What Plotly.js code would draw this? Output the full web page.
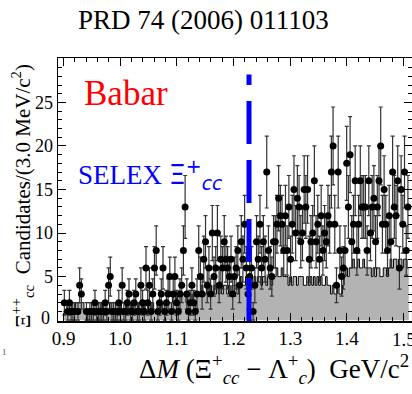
<!DOCTYPE html>
<html>
<head>
<meta charset="utf-8">
<script src="https://cdn.plot.ly/plotly-3.0.1.min.js"></script>
<style>html,body{margin:0;padding:0;background:#fff;}#chart{width:412px;height:394px;}</style>
</head>
<body>
<div id="chart"></div>
<script>
// Histogram binning (GeV/c^2)
const binStart = 0.9;
const binWidth = 0.003;

// Data: candidates per 3.0 MeV/c^2 bin (black points)
const dataCounts = [
  2,0,1,2,1,1,1,0,1,4,
  3,0,0,1,0,1,1,1,2,1,
  1,1,1,1,2,1,4,5,1,1,
  1,1,2,1,4,1,1,2,3,1,
  1,2,3,1,1,4,2,1,6,2,
  4,1,3,6,8,1,2,3,6,1,
  2,3,5,1,3,5,2,1,3,4,
  8,13,3,1,2,4,2,1,3,8,
  5,3,7,9,4,6,3,10,5,6,
  10,4,7,6,9,7,6,5,7,3,
  5,6,8,4,9,7,11,6,3,5,
  6,1,4,9,7,11,6,9,7,17,
  8,6,5,9,9,11,14,12,11,8,
  12,8,13,7,11,15,10,14,13,9,
  10,15,13,15,7,9,10,16,9,11,
  7,12,8,10,9,12,11,17,20,11,
  4,17,8,5,6,8,18,13,19,9,
  11,16,8,11,16,13,13,13,8,16,
  10,13,14,9,13,16,20,11,15,11,
  8,12,9,17,13,12,16,6,15,11,
  17,8,13
];

// Background histogram (grey, black outline)
const bkgCounts = [
  1,1,2,2,2,1,1,2,2,2,
  2,2,1,1,0,1,1,1,1,1,
  1,1,2,1,1,1,1,2,1,1,
  1,1,1,2,1,1,1,2,1,1,
  2,1,1,1,2,2,1,2,1,1,
  2,1,2,1,1,2,2,1,2,2,
  2,2,2,2,3,3,2,3,3,3,
  3,3,2,3,3,2,3,3,3,3,
  3,4,3,3,4,3,4,3,4,3,
  4,3,4,3,4,4,3,4,3,4,
  4,4,3,4,5,4,4,5,4,4,
  5,4,5,4,5,5,4,5,5,4,
  5,5,4,5,5,6,5,5,6,5,
  5,5,4,5,4,5,5,4,5,5,
  5,4,4,5,4,5,4,5,4,5,
  4,5,4,4,5,4,4,3,4,3,
  3,4,3,3,4,5,6,5,6,6,
  7,6,6,7,6,6,7,6,6,6,
  6,5,6,5,6,6,5,5,6,6,
  5,6,7,6,7,7,6,7,7,6,
  7,7,6
];

const selexMass = 1.2272;
const xTickVals = [0.9, 1.0, 1.1, 1.2, 1.3, 1.4, 1.5];
const xTickText = ['0.9', '1.0', '1.1', '1.2', '1.3', '1.4', ''];
const yTickVals = [0, 5, 10, 15, 20, 25];
const yTickText = ['', '5', '10', '15', '20', '25'];

// Build bin geometry
const centers = dataCounts.map((_, i) => binStart + binWidth * (i + 0.5));
const edges = bkgCounts.map((_, i) => binStart + binWidth * i);
edges.push(binStart + binWidth * bkgCounts.length);
const bkgStep = bkgCounts.concat([bkgCounts[bkgCounts.length - 1]]);

const px = [], py = [], pe = [];
dataCounts.forEach((v, i) => { if (v > 0) { px.push(centers[i]); py.push(v); pe.push(Math.sqrt(v)); } });

const serif = 'Liberation Serif, Times New Roman, serif';

const traces = [
  {
    type: 'scatter', mode: 'lines', x: edges, y: bkgStep,
    line: {shape: 'hv', color: '#000', width: 1},
    fill: 'tozeroy', fillcolor: '#b3b3b3', hoverinfo: 'skip'
  },
  {
    type: 'scatter', mode: 'markers', x: px, y: py,
    marker: {color: '#000', size: 7, symbol: 'circle'},
    error_y: {type: 'data', array: pe, visible: true, color: '#333', thickness: 1.2, width: 2}
  }
];

const axisCommon = {
  showline: true, linecolor: '#000', linewidth: 1.5, mirror: 'ticks',
  ticks: 'inside', ticklen: 8, tickwidth: 1, tickcolor: '#000',
  showgrid: false, zeroline: false,
  tickfont: {family: serif, size: 19, color: '#000'}
};

function pxX(p) { return (p - 58) / 354; }
function pxY(p) { return (394 - 73 - p) / 263; }

const layout = {
  width: 412, height: 394,
  margin: {l: 58, r: 0, t: 58, b: 73},
  paper_bgcolor: '#fff', plot_bgcolor: '#fff',
  showlegend: false,
  xaxis: Object.assign({}, axisCommon, {
    range: [0.8903, 1.5147], tickmode: 'array', tickvals: xTickVals, ticktext: xTickText,
    minor: {dtick: 0.02, tick0: 0.9, ticks: 'inside', ticklen: 4, tickcolor: '#000', showgrid: false}
  }),
  yaxis: Object.assign({}, axisCommon, {
    range: [-0.1, 30.1], tickmode: 'array', tickvals: yTickVals, ticktext: yTickText,
    tickfont: {family: serif, size: 18, color: '#000'},
    minor: {dtick: 1, tick0: 0, ticks: 'inside', ticklen: 4, tickcolor: '#000', showgrid: false}
  }),
  shapes: [{
    type: 'line', xref: 'x', yref: 'y', x0: selexMass, x1: selexMass, y0: -0.1, y1: 28.2,
    line: {color: '#0000ff', width: 5, dash: '43px,16px'}, layer: 'above'
  }],
  annotations: [
    {text: 'PRD 74 (2006) 011103', xref: 'paper', yref: 'paper', x: pxX(203), y: pxY(20),
     xanchor: 'center', yanchor: 'middle', showarrow: false, font: {family: serif, size: 27, color: '#000'}},
    {text: 'Babar', xref: 'paper', yref: 'paper', x: pxX(82), y: pxY(94),
     xanchor: 'left', yanchor: 'middle', showarrow: false, font: {family: serif, size: 35, color: '#ff0000'}},
    {text: 'SELEX <span style="font-family:DejaVu Sans">Ξ<sup>+</sup><sub><i>cc</i></sub></span>', xref: 'paper', yref: 'paper',
     x: pxX(76), y: pxY(174),
     xanchor: 'left', yanchor: 'middle', showarrow: false, font: {family: serif, size: 27, color: '#0000ff'}},
    {text: 'Ξ<sup>++</sup><sub>cc</sub>  Candidates/(3.0 MeV/c<sup>2</sup>)', xref: 'paper', yref: 'paper',
     x: pxX(22), y: pxY(196), textangle: -90,
     xanchor: 'center', yanchor: 'middle', showarrow: false, font: {family: serif, size: 21, color: '#000'}},
    {text: 'Δ<i>M</i> (Ξ<sup>+</sup><sub><i>cc</i></sub> − Λ<sup>+</sup><sub><i>c</i></sub>)  GeV/c<sup>2</sup>', xref: 'paper', yref: 'paper',
     x: pxX(411), y: pxY(369),
     xanchor: 'right', yanchor: 'middle', showarrow: false, font: {family: serif, size: 27, color: '#000'}},
    {text: '0', xref: 'paper', yref: 'paper', x: pxX(52), y: pxY(318),
     xanchor: 'right', yanchor: 'middle', showarrow: false, font: {family: serif, size: 18, color: '#000'}},
    {text: '1.5', xref: 'paper', yref: 'paper', x: pxX(404), y: pxY(339),
     xanchor: 'center', yanchor: 'middle', showarrow: false, font: {family: serif, size: 19, color: '#000'}},
    {text: '1', xref: 'paper', yref: 'paper', x: pxX(4), y: pxY(352),
     xanchor: 'center', yanchor: 'middle', showarrow: false, font: {family: serif, size: 9, color: '#555'}}
  ]
};

Plotly.newPlot('chart', traces, layout, {staticPlot: true, displayModeBar: false});
</script>
</body>
</html>
